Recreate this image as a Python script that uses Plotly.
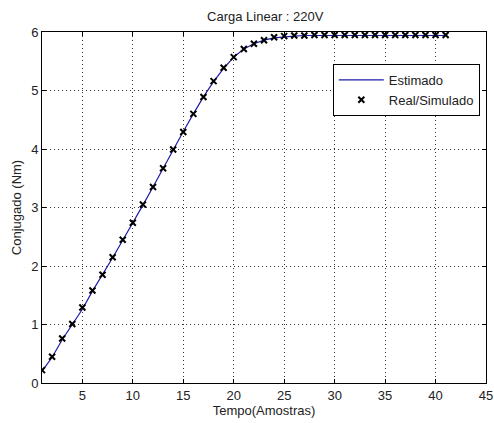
import plotly.graph_objects as go

samples = list(range(1, 42))
real_sim = [0.22, 0.45, 0.76, 1.01, 1.29, 1.58, 1.85, 2.15, 2.45, 2.74,
            3.05, 3.35, 3.67, 3.99, 4.29, 4.60, 4.89, 5.16, 5.39, 5.57,
            5.71, 5.80, 5.86, 5.91, 5.93, 5.94, 5.94, 5.95, 5.95, 5.95,
            5.95, 5.95, 5.95, 5.95, 5.95, 5.95, 5.95, 5.95, 5.95, 5.95, 5.95]
estimado = [0.20, 0.44, 0.74, 1.00, 1.26, 1.57, 1.85, 2.14, 2.44, 2.73,
            3.04, 3.35, 3.67, 3.99, 4.30, 4.60, 4.89, 5.15, 5.38, 5.57,
            5.71, 5.80, 5.86, 5.90, 5.92, 5.93, 5.94, 5.94, 5.94, 5.94,
            5.94, 5.94, 5.94, 5.94, 5.94, 5.94, 5.94, 5.94, 5.94, 5.94, 5.94]
x_ticks = [5, 10, 15, 20, 25, 30, 35, 40, 45]
y_ticks = [0, 1, 2, 3, 4, 5, 6]

fig = go.Figure()
fig.add_trace(go.Scatter(x=samples, y=estimado, mode="lines", name="Estimado",
                         line=dict(color="#1c1ca8", width=1.2)))
fig.add_trace(go.Scatter(x=samples, y=real_sim, mode="markers", name="Real/Simulado",
                         marker=dict(symbol="x-thin", size=6, color="black",
                                     line=dict(color="black", width=2))))

axis_common = dict(showline=True, linecolor="black", linewidth=1, mirror="ticks",
                   ticks="inside", ticklen=4, tickcolor="black",
                   showgrid=True, gridcolor="#333333", griddash="1px,3px", gridwidth=1,
                   zeroline=False, automargin=False,
                   tickfont=dict(size=13, color="#222"))

fig.update_layout(
    width=494, height=423,
    margin=dict(l=42, r=8, t=32, b=40),
    paper_bgcolor="white", plot_bgcolor="white",
    font=dict(family="Liberation Sans, Arial, sans-serif", size=13, color="#222"),
    title=dict(text="Carga Linear : 220V", x=0.537, xanchor="center", y=0.962,
               yanchor="middle", font=dict(size=13, color="#222")),
    xaxis=dict(range=[1, 45], tickvals=x_ticks,
               title=dict(text="Tempo(Amostras)", standoff=4, font=dict(size=13)),
               **axis_common),
    yaxis=dict(range=[0, 6], tickvals=y_ticks,
               title=dict(text="Conjugado (Nm)", standoff=6, font=dict(size=13)),
               **axis_common),
    legend=dict(x=0.655, y=0.909, xanchor="left", yanchor="top",
                bgcolor="white", bordercolor="black", borderwidth=1,
                itemwidth=45, tracegroupgap=0,
                font=dict(size=13, color="#222")),
    showlegend=True,
)

fig.write_html("out.html", config={"displayModeBar": False},
               post_script="document.body.style.margin='0';document.body.style.overflow='hidden';")
